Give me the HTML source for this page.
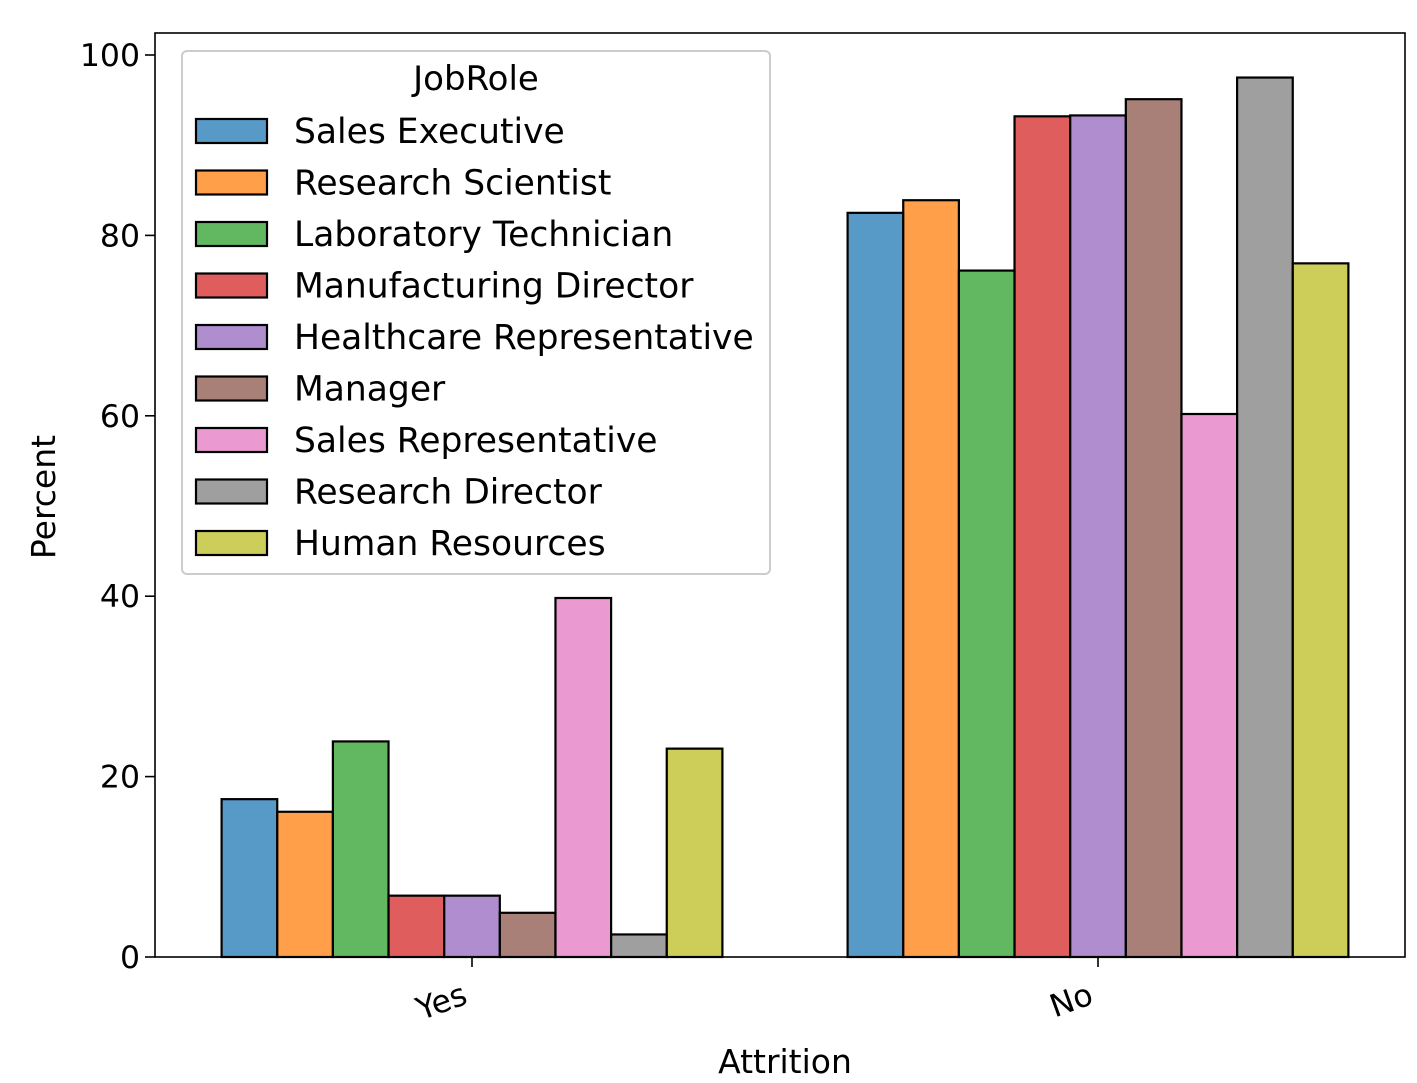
<!DOCTYPE html>
<html><head><meta charset="utf-8"><style>body{margin:0;background:#fff}svg{display:block;font-family:"DejaVu Sans","Liberation Sans",sans-serif}</style></head>
<body>
<svg id="chart" width="1417" height="1083" viewBox="0 0 1417 1083" xmlns="http://www.w3.org/2000/svg">
<rect width="1417" height="1083" fill="#fff"/>
<g id="bars"></g>
<g id="axes"></g>
<g id="legend"></g>
</svg>
<script>
const categories = ["Yes", "No"];
const roles = ["Sales Executive","Research Scientist","Laboratory Technician","Manufacturing Director","Healthcare Representative","Manager","Sales Representative","Research Director","Human Resources"];
const yesValues = [17.5, 16.1, 23.9, 6.8, 6.8, 4.9, 39.8, 2.5, 23.1];
const noValues = [82.5, 83.9, 76.1, 93.2, 93.3, 95.1, 60.2, 97.5, 76.9];
const yTicks = [0, 20, 40, 60, 80, 100];
const colors = ["#1f77b4","#ff7f0e","#2ca02c","#d62728","#9467bd","#8c564b","#e377c2","#7f7f7f","#bcbd22"];

const NS = "http://www.w3.org/2000/svg";
const L = 155, R = 1405, T = 33, B = 957;
const xScale = c => 472 + c * 626;
const yScale = v => 957 - v * 9.02;
const groupW = 0.8 * 626, barW = groupW / roles.length;
function mk(tag, attrs, parent) { const e = document.createElementNS(NS, tag); for (const k in attrs) e.setAttribute(k, attrs[k]); parent.appendChild(e); return e; }

const bars = document.getElementById("bars");
const series = [yesValues, noValues];
categories.forEach((cat, ci) => {
  roles.forEach((role, ri) => {
    const v = series[ci][ri];
    const x = xScale(ci) - groupW / 2 + ri * barW;
    const r = mk("rect", {x: x, y: yScale(v), width: barW, height: yScale(0) - yScale(v), fill: colors[ri], "fill-opacity": 0.75, stroke: "#000", "stroke-width": 2.2}, bars);
    
    
  });
});

const axes = document.getElementById("axes");
const frame = mk("rect", {x: L, y: T, width: R - L, height: B - T, fill: "none", stroke: "#000", "stroke-width": 1.6}, axes);


yTicks.forEach(t => {
  const y = yScale(t);
  const ln = mk("line", {x1: L - 10, x2: L, y1: y, y2: y, stroke: "#000", "stroke-width": 1.6}, axes);
  
  
  const tx = mk("text", {x: L - 15, y: y + 11, "text-anchor": "end", "font-size": 31.5}, axes);
  tx.textContent = t;
  
  
});
categories.forEach((c, ci) => {
  const x = xScale(ci);
  const ln = mk("line", {x1: x, x2: x, y1: B, y2: B + 10, stroke: "#000", "stroke-width": 1.6}, axes);
  
  
  const tx = mk("text", {x: x - 3, y: B + 46, "text-anchor": "end", "font-size": 31.5, transform: `rotate(-20 ${x - 3} ${B + 46})`}, axes);
  tx.textContent = c;
  
  
});
const xt = mk("text", {x: 785, y: 1073, "text-anchor": "middle", "font-size": 33}, axes);
xt.textContent = "Attrition";


const yt = mk("text", {x: 55, y: 497, "text-anchor": "middle", "font-size": 33, transform: "rotate(-90 55 497)"}, axes);
yt.textContent = "Percent";



const lg = document.getElementById("legend");
const box = mk("rect", {x: 182, y: 51, width: 588, height: 523, rx: 5, fill: "#fff", "fill-opacity": 0.8, stroke: "#ccc", "stroke-width": 2}, lg);


const title = mk("text", {x: 476, y: 90, "text-anchor": "middle", "font-size": 34}, lg);
title.textContent = "JobRole";


roles.forEach((role, i) => {
  const y = 131 + i * 51.5;
  const g = mk("g", {}, lg);
  
  
  mk("rect", {x: 196, y: y - 12, width: 71, height: 24, fill: colors[i], "fill-opacity": 0.75, stroke: "#000", "stroke-width": 2.2}, g);
  const t = mk("text", {x: 294, y: y + 12, "font-size": 34.5}, g);
  t.textContent = role;
});
</script>
</body></html>
